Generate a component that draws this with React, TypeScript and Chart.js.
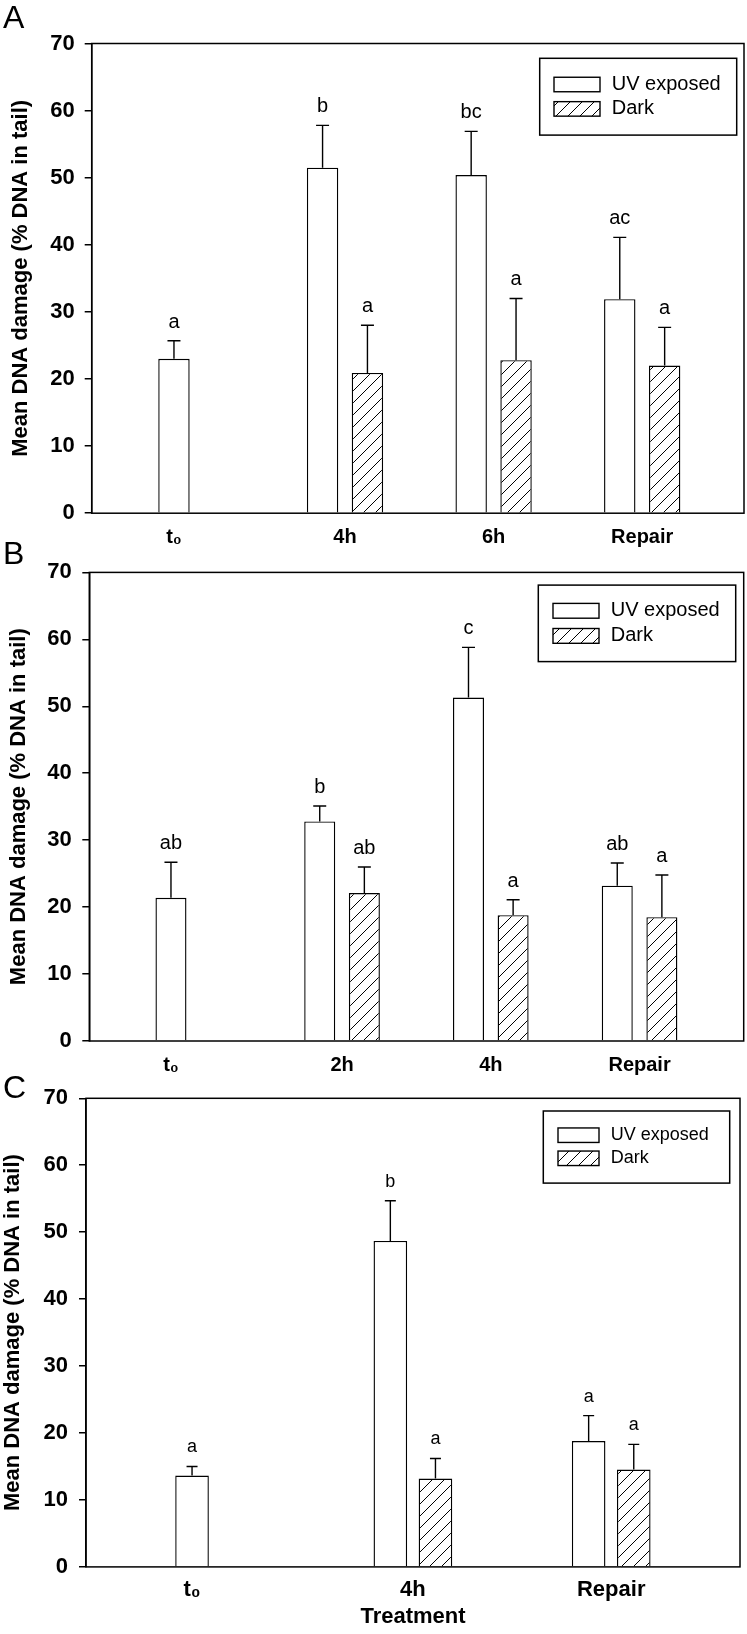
import React, { useEffect, useRef } from 'react';
import { Chart, registerables } from 'chart.js';

Chart.register(...registerables);

const FONT = "Arial, 'Liberation Sans', Helvetica, sans-serif";
const Y_TITLE = 'Mean DNA damage (% DNA in tail)';
const SERIES = ['UV exposed', 'Dark'];
const Y_MIN = 0;
const Y_MAX = 70;
const Y_STEP = 10;

// ---------- Panel A ----------
const catsA = ['t₀', '4h', '6h', 'Repair'];
const uvA = [23.0, 51.5, 50.4, 31.9];
const uvErrA = [2.7, 6.3, 6.5, 9.2];
const darkA: (number | null)[] = [null, 20.9, 22.8, 22.0];
const darkErrA: (number | null)[] = [null, 7.1, 9.2, 5.7];
const uvLetA = ['a', 'b', 'bc', 'ac'];
const darkLetA: (string | null)[] = [null, 'a', 'a', 'a'];

// ---------- Panel B ----------
const catsB = ['t₀', '2h', '4h', 'Repair'];
const uvB = [21.4, 32.8, 51.3, 23.2];
const uvErrB = [5.3, 2.3, 7.5, 3.4];
const darkB: (number | null)[] = [null, 22.1, 18.8, 18.5];
const darkErrB: (number | null)[] = [null, 3.9, 2.3, 6.3];
const uvLetB = ['ab', 'b', 'c', 'ab'];
const darkLetB: (string | null)[] = [null, 'ab', 'a', 'a'];

// ---------- Panel C ----------
const catsC = ['t₀', '4h', 'Repair'];
const uvC = [13.65, 48.7, 18.8];
const uvErrC = [1.35, 6.0, 3.8];
const darkC: (number | null)[] = [null, 13.2, 14.55];
const darkErrC: (number | null)[] = [null, 3.0, 3.75];
const uvLetC = ['a', 'b', 'a'];
const darkLetC: (string | null)[] = [null, 'a', 'a'];
const xTitleC = 'Treatment';

type Legend = {
  right: number; top: number; w: number; h: number;
  swLeft: number; swW: number; swH: number; gap: number;
  rows: number[]; font: number;
};

type Panel = {
  letter: string; letterBase: number;
  top: number; height: number; chartTop: number; chartBottom: number;
  axisW: number; rightPad: number; xMin: number; xMax: number;
  catPct: number; barPct: number;
  cats: string[]; uv: number[]; uvErr: number[]; dark: (number | null)[]; darkErr: (number | null)[];
  uvLet: string[]; darkLet: (string | null)[];
  xFont: number; xPad: number; yPad: number; yTitlePad: number;
  xTitle?: string; xTitlePad?: number;
  annFont: number; annGap: number; cap: number;
  legend: Legend;
};

const panels: Panel[] = [
  {
    letter: 'A', letterBase: 28,
    top: 0, height: 555, chartTop: 43.5, chartBottom: 513.2,
    axisW: 91.7, rightPad: 3, xMin: -0.7046, xMax: 3.685,
    catPct: 0.604, barPct: 0.70,
    cats: catsA, uv: uvA, uvErr: uvErrA, dark: darkA, darkErr: darkErrA, uvLet: uvLetA, darkLet: darkLetA,
    xFont: 20, xPad: 12, yPad: 10, yTitlePad: 7.6,
    annFont: 20, annGap: 13, cap: 13,
    legend: { right: 7.3, top: 14.8, w: 197, h: 76.8, swLeft: 14.3, swW: 46, swH: 14.5, gap: 11.7, rows: [26.2, 50.6], font: 20 },
  },
  {
    letter: 'B', letterBase: 36.4,
    top: 528, height: 555, chartTop: 44.4, chartBottom: 513,
    axisW: 89.3, rightPad: 3.3, xMin: -0.699, xMax: 3.70,
    catPct: 0.60, barPct: 0.695,
    cats: catsB, uv: uvB, uvErr: uvErrB, dark: darkB, darkErr: darkErrB, uvLet: uvLetB, darkLet: darkLetB,
    xFont: 20, xPad: 12, yPad: 10.6, yTitlePad: 5.8,
    annFont: 20, annGap: 13, cap: 13,
    legend: { right: 8, top: 12.7, w: 197.4, h: 76.5, swLeft: 14.7, swW: 46, swH: 14.8, gap: 11.7, rows: [25.7, 50.8], font: 20 },
  },
  {
    letter: 'C', letterBase: 38,
    top: 1060, height: 574, chartTop: 38.3, chartBottom: 506.9,
    axisW: 86, rightPad: 7, xMin: -0.6485, xMax: 2.6495,
    catPct: 0.455, barPct: 0.745,
    cats: catsC, uv: uvC, uvErr: uvErrC, dark: darkC, darkErr: darkErrC, uvLet: uvLetC, darkLet: darkLetC,
    xFont: 22, xPad: 10, yPad: 11, yTitlePad: 0,
    xTitle: xTitleC, xTitlePad: 4.3,
    annFont: 18, annGap: 14, cap: 11,
    legend: { right: 10.3, top: 12.7, w: 186.4, h: 72.1, swLeft: 14.7, swW: 41, swH: 14.5, gap: 11.7, rows: [24.2, 47.3], font: 18 },
  },
];

function makeHatch(): CanvasPattern | string {
  const s = 12;
  const c = document.createElement('canvas');
  c.width = s;
  c.height = s;
  const g = c.getContext('2d');
  if (!g) return '#fff';
  g.fillStyle = '#fff';
  g.fillRect(0, 0, s, s);
  g.strokeStyle = '#000';
  g.lineWidth = 1;
  g.beginPath();
  g.moveTo(0, s);
  g.lineTo(s, 0);
  g.moveTo(-2, 2);
  g.lineTo(2, -2);
  g.moveTo(s - 2, s + 2);
  g.lineTo(s + 2, s - 2);
  g.stroke();
  const pat = g.createPattern(c, 'repeat');
  return pat || '#fff';
}

function PanelChart({ p }: { p: Panel }) {
  const ref = useRef<HTMLCanvasElement | null>(null);

  useEffect(() => {
    const canvas = ref.current;
    if (!canvas) return;
    const hatch = makeHatch();

    const framePlugin = {
      id: 'frame' + p.letter,
      afterDatasetsDraw(chart: any) {
        const { ctx, chartArea: a } = chart;
        ctx.save();
        ctx.strokeStyle = '#000';
        ctx.lineWidth = 1.5;
        ctx.strokeRect(a.left, a.top, a.right - a.left, a.bottom - a.top);
        ctx.restore();
      },
    };

    const annotPlugin = {
      id: 'annot' + p.letter,
      afterDatasetsDraw(chart: any) {
        const { ctx } = chart;
        const y = chart.scales.y;
        const groups: [(number | null)[], (string | null)[]][] = [
          [p.uvErr, p.uvLet],
          [p.darkErr, p.darkLet],
        ];
        ctx.save();
        ctx.strokeStyle = '#000';
        ctx.lineWidth = 1.4;
        ctx.fillStyle = '#000';
        ctx.font = `${p.annFont}px ${FONT}`;
        ctx.textAlign = 'center';
        ctx.textBaseline = 'alphabetic';
        groups.forEach(([errs, lets], di) => {
          const meta = chart.getDatasetMeta(di);
          const ds = chart.data.datasets[di].data as any[];
          meta.data.forEach((el: any, i: number) => {
            const v = ds[i] ? ds[i].y : null;
            const e = errs[i];
            if (v == null || e == null) return;
            const top = y.getPixelForValue(v + e);
            ctx.beginPath();
            ctx.moveTo(el.x, el.y);
            ctx.lineTo(el.x, top);
            ctx.moveTo(el.x - p.cap / 2, top);
            ctx.lineTo(el.x + p.cap / 2, top);
            ctx.stroke();
            const t = lets[i];
            if (t) ctx.fillText(t, el.x, top - p.annGap);
          });
        });
        ctx.restore();
      },
    };

    const legendPlugin = {
      id: 'legendBox' + p.letter,
      afterDraw(chart: any) {
        const { ctx, chartArea: a } = chart;
        const L = p.legend;
        const right = a.right - L.right;
        const left = right - L.w;
        const top = a.top + L.top;
        ctx.save();
        ctx.fillStyle = '#fff';
        ctx.fillRect(left, top, L.w, L.h);
        ctx.strokeStyle = '#000';
        ctx.lineWidth = 1.5;
        ctx.strokeRect(left, top, L.w, L.h);
        chart.data.datasets.forEach((ds: any, i: number) => {
          const cy = top + L.rows[i];
          const sx = left + L.swLeft;
          ctx.fillStyle = ds.backgroundColor;
          ctx.fillRect(sx, cy - L.swH / 2, L.swW, L.swH);
          ctx.lineWidth = 1.4;
          ctx.strokeRect(sx, cy - L.swH / 2, L.swW, L.swH);
          ctx.fillStyle = '#000';
          ctx.font = `${L.font}px ${FONT}`;
          ctx.textAlign = 'left';
          ctx.textBaseline = 'middle';
          ctx.fillText(ds.label, sx + L.swW + L.gap, cy);
        });
        ctx.restore();
      },
    };

    const letterPlugin = {
      id: 'panelLetter' + p.letter,
      afterDraw(chart: any) {
        const { ctx } = chart;
        ctx.save();
        ctx.fillStyle = '#000';
        ctx.font = `32px ${FONT}`;
        ctx.textAlign = 'left';
        ctx.textBaseline = 'alphabetic';
        ctx.fillText(p.letter, 3, p.letterBase);
        ctx.restore();
      },
    };

    const chart = new Chart(canvas, {
      type: 'bar',
      data: {
        datasets: [
          {
            label: SERIES[0],
            data: p.uv.map((v, i) => ({ x: i, y: v })),
            backgroundColor: '#ffffff',
            borderColor: '#000000',
            borderWidth: 1.4,
            categoryPercentage: p.catPct,
            barPercentage: p.barPct,
          },
          {
            label: SERIES[1],
            data: p.dark.map((v, i) => ({ x: i, y: v })),
            backgroundColor: hatch as any,
            borderColor: '#000000',
            borderWidth: 1.4,
            categoryPercentage: p.catPct,
            barPercentage: p.barPct,
          },
        ] as any,
      },
      options: {
        animation: false,
        responsive: false,
        maintainAspectRatio: false,
        layout: { padding: { top: p.chartTop, right: p.rightPad, left: 0, bottom: 0 } },
        plugins: { legend: { display: false }, tooltip: { enabled: false } },
        scales: {
          x: {
            type: 'linear',
            offset: false,
            min: p.xMin,
            max: p.xMax,
            grid: { display: false, drawTicks: false, offset: false },
            border: { display: false },
            afterBuildTicks: (ax: any) => {
              ax.ticks = p.cats.map((_, i) => ({ value: i - (p.dark[i] == null ? p.catPct / 4 : 0) }));
            },
            afterFit: (ax: any) => {
              ax.height = p.height - p.chartBottom;
            },
            ticks: {
              autoSkip: false,
              maxRotation: 0,
              minRotation: 0,
              padding: p.xPad,
              color: '#000',
              font: { family: FONT, size: p.xFont, weight: 'bold', lineHeight: 1.2 },
              callback: (_v: any, i: number) => p.cats[i],
            },
            title: p.xTitle
              ? {
                  display: true,
                  text: p.xTitle,
                  color: '#000',
                  font: { family: FONT, size: 22, weight: 'bold', lineHeight: 1.2 },
                  padding: { top: 0, bottom: p.xTitlePad || 0 },
                }
              : { display: false },
          },
          y: {
            min: Y_MIN,
            max: Y_MAX,
            ticks: {
              stepSize: Y_STEP,
              padding: p.yPad,
              color: '#000',
              font: { family: FONT, size: 22, weight: 'bold', lineHeight: 1.2 },
            },
            grid: { drawOnChartArea: false, drawTicks: true, tickLength: 7, color: '#000', lineWidth: 1.5 },
            border: { display: true, color: '#000', width: 1.5 },
            afterFit: (ax: any) => {
              ax.width = p.axisW;
            },
            title: {
              display: true,
              text: Y_TITLE,
              color: '#000',
              font: { family: FONT, size: 22, weight: 'bold', lineHeight: 1.2 },
              padding: { top: p.yTitlePad, bottom: 0 },
            },
          },
        },
      } as any,
      plugins: [framePlugin, annotPlugin, legendPlugin, letterPlugin],
    });

    return () => {
      chart.destroy();
    };
  }, [p]);

  return (
    <canvas
      ref={ref}
      width={747}
      height={p.height}
      style={{ position: 'absolute', left: 0, top: p.top, width: 747, height: p.height }}
    />
  );
}

export default function App() {
  return (
    <div
      style={{
        position: 'absolute',
        left: 0,
        top: 0,
        width: 747,
        height: 1634,
        background: '#ffffff',
        overflow: 'hidden',
      }}
    >
      {panels.map((p) => (
        <PanelChart key={p.letter} p={p} />
      ))}
    </div>
  );
}
